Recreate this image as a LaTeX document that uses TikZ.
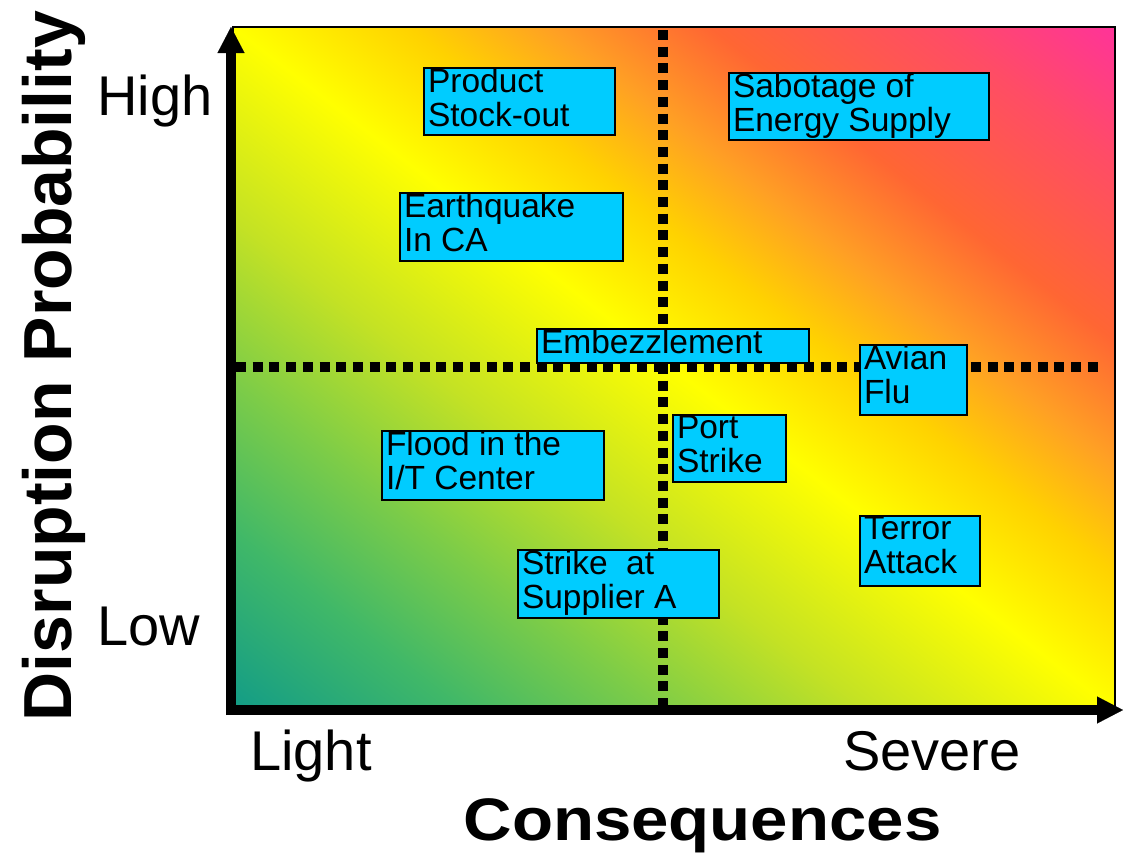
\documentclass[tikz,border=0pt]{standalone}
\usepackage{graphicx}
\usepackage{fontspec}
\setmainfont{Liberation Sans}
\usetikzlibrary{arrows.meta}

% colours of the risk field, from low risk (teal) to high risk (pink)
\definecolor{rg0}{HTML}{129C87}
\definecolor{rg1}{HTML}{40B868}
\definecolor{rg2}{HTML}{7CCC48}
\definecolor{rg3}{HTML}{C4E224}
\definecolor{rg4}{HTML}{FFFF00}
\definecolor{rg5}{HTML}{FFD200}
\definecolor{rg6}{HTML}{FFA024}
\definecolor{rg7}{HTML}{FF6633}
\definecolor{rg8}{HTML}{FF4C66}
\definecolor{rg9}{HTML}{FF3399}
\definecolor{riskcyan}{HTML}{00CCFF}

% the field's bounding box maps to 25bp..75bp of this shading
\pgfdeclarehorizontalshading{riskgrad}{100bp}{%
  color(0bp)=(rg0); color(25bp)=(rg0); color(31.5bp)=(rg1);
  color(37bp)=(rg2); color(43bp)=(rg3); color(50bp)=(rg4);
  color(55bp)=(rg5); color(59bp)=(rg6); color(63.5bp)=(rg7);
  color(70bp)=(rg8); color(75bp)=(rg9); color(100bp)=(rg9)}

% text of a risk box: fixed height #1, fixed width #2, lines #3
\newcommand\risktext[3]{\parbox[t][#1][t]{#2}{\fontsize{33.5}{34}\selectfont
  \lineskiplimit=-100pt\raggedright #3}}

\begin{document}
\begin{tikzpicture}[x=1pt,y=-1pt,
  risk/.style={draw=black, line width=2pt, fill=riskcyan,
    inner xsep=4pt, inner ysep=0pt, anchor=north west},
  axislabel/.style={font=\fontsize{56}{60}\selectfont, inner sep=0pt},
  axistitle/.style={font=\bfseries\fontsize{68}{72}\selectfont, inner sep=0pt},
  axisline/.style={line width=10pt,
    -{Triangle[length=26pt,width=27pt,line width=0.1pt]}},
  midline/.style={line width=9.5pt, dash pattern=on 10pt off 6.7pt}]

\useasboundingbox (0,0) rectangle (1128,857);

% risk field: colour runs corner to corner, from bottom left to top right
\begin{scope}
  \clip (233,27) rectangle (1115,710);
  \begin{scope}[transform canvas={cm={8.82,6.83,8.82,-6.83,(233pt,-710pt)}}]
    \shade[shading=riskgrad] (0pt,-100pt) rectangle (100pt,100pt);
  \end{scope}
\end{scope}
\draw[line width=1.5pt] (233,27) rectangle (1115,710);

% quadrant separators
\coordinate (vtop) at (663,30);
\coordinate (vbot) at (663,705);
\coordinate (hleft) at (236,367);
\coordinate (hright) at (1100,367);
\draw[midline] (vtop) -- (vbot);
\draw[midline] (hleft) -- (hright);

% axes
\coordinate (ybot) at (231,715);
\coordinate (ytop) at (231,27);
\coordinate (xleft) at (226,710);
\coordinate (xright) at (1123,710);
\draw[axisline] (ybot) -- (ytop);
\draw[axisline] (xleft) -- (xright);

% axis labels
\node[axislabel, anchor=base west] (high) at (97,115) {High};
\node[axislabel, anchor=base west] (low) at (97,645) {Low};
\node[axislabel, anchor=base west] (light) at (250,770) {Light};
\node[axislabel, anchor=base west] (severe) at (843,770) {Severe};
\node[axistitle, anchor=base] (cons) at (702.5,840)
  {\scalebox{1.12}[1]{\fontsize{60}{64}\selectfont Consequences}};
\node[axistitle, anchor=base, rotate=90] (prob) at (71,366)
  {Disruption Probability};

% risk events
\node[risk] (stock) at (423,67)
  {\risktext{67pt}{183pt}{Product\\Stock-out}};
\node[risk] (sabotage) at (728,72)
  {\risktext{67pt}{252pt}{Sabotage of\\Energy Supply}};
\node[risk] (quake) at (399,192)
  {\risktext{68pt}{215pt}{Earthquake\\In CA}};
\node[risk] (embezzle) at (536,328)
  {\risktext{34pt}{264pt}{Embezzlement}};
\node[risk] (avian) at (859,344)
  {\risktext{70pt}{99pt}{Avian\\Flu}};
\node[risk] (flood) at (381,430)
  {\risktext{69pt}{214pt}{Flood in the\\I/T Center}};
\node[risk] (port) at (672,414)
  {\risktext{67pt}{105pt}{Port\\Strike}};
\node[risk] (terror) at (859,515)
  {\risktext{70pt}{112pt}{Terror\\Attack}};
\node[risk] (supplier) at (517,549)
  {\risktext{68pt}{193pt}{Strike~\ at\\Supplier A}};

\end{tikzpicture}
\end{document}
